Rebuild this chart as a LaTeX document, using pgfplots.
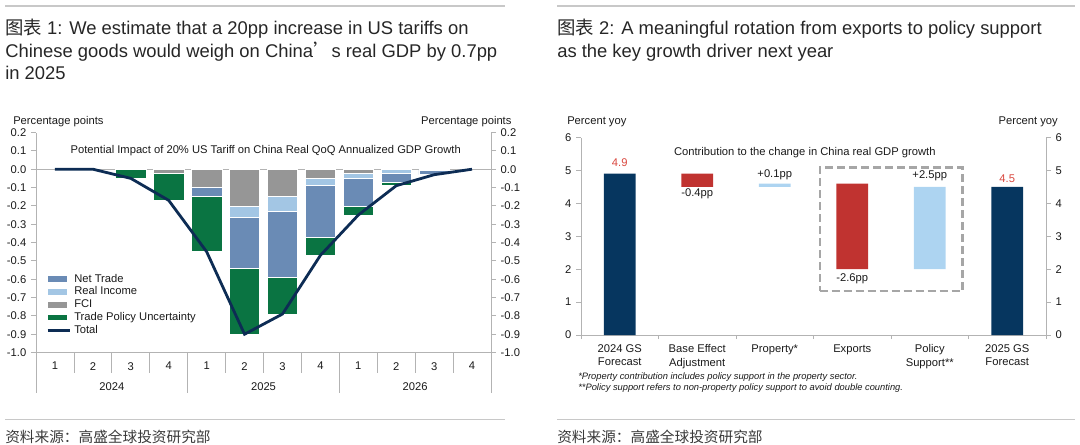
\documentclass[border=0pt]{standalone}
\usepackage{pgfplots}
\pgfplotsset{compat=1.18}
\usepackage{fontspec}
\setmainfont{Liberation Sans}
\newfontfamily\cjk{Noto Sans CJK SC}
\definecolor{ntcol}{HTML}{6A8BB5}
\definecolor{ricol}{HTML}{A3C6E4}
\definecolor{fcicol}{HTML}{969696}
\definecolor{tpucol}{HTML}{0A7442}
\definecolor{navyline}{HTML}{0D2C54}
\definecolor{cnavy}{HTML}{06365F}
\definecolor{cred}{HTML}{C03330}
\definecolor{clb}{HTML}{ADD4F1}
\definecolor{lblred}{HTML}{D9483F}
\definecolor{axgray}{HTML}{B3B3B3}
\definecolor{rulegray}{HTML}{C8C8C8}
\definecolor{boxgray}{HTML}{A6A6A6}
\definecolor{txt}{HTML}{1A1A1A}
\definecolor{titlecol}{HTML}{262626}
\definecolor{srccol}{HTML}{3A3A3A}
\newcommand\fa{\fontsize{8.4}{10}\selectfont}
\newcommand\ft{\fontsize{13.8}{17}\selectfont}
\newcommand\fn{\fontsize{7}{8.5}\selectfont}
\newcommand\fs{\fontsize{11}{13}\selectfont}
\tikzset{sepline/.style={draw=axgray, line width=0.6pt}}
\pgfplotsset{
  myarea/.style={legend image code/.code={\fill[##1] (0pt,-2.15pt) rectangle (14.25pt,2.15pt);}},
  myline/.style={legend image code/.code={\draw[##1] (0pt,0pt) -- (17pt,0pt);}},
  basestyle/.style={scale only axis, axis line style={draw=axgray,-}, tick style={draw=axgray, line width=0.6pt},
    tick align=outside, major tick length=3.75pt, tick label style={font=\fa, text=txt},
    /pgf/number format/assume math mode=true, clip=false},
  onedec/.style={yticklabel style={/pgf/number format/fixed, /pgf/number format/fixed zerofill, /pgf/number format/precision=1}},
}
\begin{document}
\begin{tikzpicture}
\useasboundingbox (0,0) rectangle (810pt,-333pt);
% rules
\draw[rulegray, line width=0.9pt] (3.75pt,-4.5pt) -- (378.75pt,-4.5pt);
\draw[rulegray, line width=0.9pt] (417.75pt,-4.5pt) -- (806.25pt,-4.5pt);
\draw[rulegray, line width=0.9pt] (3.75pt,-314.5pt) -- (378.75pt,-314.5pt);
\draw[rulegray, line width=0.9pt] (417.75pt,-314.5pt) -- (806.25pt,-314.5pt);
% titles
\node[anchor=base west, inner sep=0, font=\ft, text=titlecol] at (3.75pt,-25.9pt) {{\cjk 图表} 1: We estimate that a 20pp increase in US tariffs on};
\node[anchor=base west, inner sep=0, font=\ft, text=titlecol] at (3.75pt,-43.1pt) {Chinese goods would weigh on China{\cjk ’}s real GDP by 0.7pp};
\node[anchor=base west, inner sep=0, font=\ft, text=titlecol] at (3.75pt,-59.6pt) {in 2025};
\node[anchor=base west, inner sep=0, font=\ft, text=titlecol] at (417.75pt,-25.9pt) {{\cjk 图表} 2: A meaningful rotation from exports to policy support};
\node[anchor=base west, inner sep=0, font=\ft, text=titlecol] at (417.75pt,-43.1pt) {as the key growth driver next year};
% sources
\node[anchor=base west, inner sep=0, font=\fs, text=srccol] at (3.75pt,-331.5pt) {\cjk 资料来源：高盛全球投资研究部};
\node[anchor=base west, inner sep=0, font=\fs, text=srccol] at (417.75pt,-331.5pt) {\cjk 资料来源：高盛全球投资研究部};
% unit labels
\node[anchor=base west, inner sep=0, font=\fa, text=txt] at (9.75pt,-93pt) {Percentage points};
\node[anchor=base east, inner sep=0, font=\fa, text=txt] at (383.8pt,-93pt) {Percentage points};
\node[anchor=base west, inner sep=0, font=\fa, text=txt] at (425.25pt,-93pt) {Percent yoy};
\node[anchor=base east, inner sep=0, font=\fa, text=txt] at (793.5pt,-93pt) {Percent yoy};
% footnotes
\node[anchor=base west, inner sep=0, font=\fn\itshape, text=txt] at (433.5pt,-284.25pt) {*Property contribution includes policy support in the property sector.};
\node[anchor=base west, inner sep=0, font=\fn\itshape, text=txt] at (433.5pt,-292.9pt) {**Policy support refers to non-property policy support to avoid double counting.};

% ===== Chart 1: bars =====
\begin{axis}[basestyle, onedec, at={(27pt,-264.4pt)}, anchor=south west, width=341.25pt, height=165pt,
  xmin=0.5, xmax=12.5, ymin=-1, ymax=0.2,
  axis x line*=bottom, axis y line*=left,
  ybar stacked, bar width=0.8,
  ytick={-1,-0.9,-0.8,-0.7,-0.6,-0.5,-0.4,-0.3,-0.2,-0.1,0,0.1,0.2},
  xtick={1,2,3,4,5,6,7,8,9,10,11,12}, xticklabels={1,2,3,4,1,2,3,4,1,2,3,4},
  major x tick style={draw=none},
]
\addplot[fill=fcicol, draw=white, line width=0.4pt] coordinates {(1,0) (2,0) (3,0) (4,-0.02) (5,-0.10) (6,-0.20) (7,-0.15) (8,-0.05) (9,-0.02) (10,0) (11,0) (12,0)};
\addplot[fill=ricol, draw=white, line width=0.4pt] coordinates {(1,0) (2,0) (3,0) (4,0) (5,0) (6,-0.06) (7,-0.08) (8,-0.04) (9,-0.03) (10,-0.02) (11,-0.005) (12,0)};
\addplot[fill=ntcol, draw=white, line width=0.4pt] coordinates {(1,0) (2,0) (3,0) (4,0) (5,-0.05) (6,-0.28) (7,-0.36) (8,-0.28) (9,-0.15) (10,-0.05) (11,-0.025) (12,0)};
\addplot[fill=tpucol, draw=white, line width=0.4pt] coordinates {(1,0) (2,0) (3,-0.05) (4,-0.15) (5,-0.30) (6,-0.36) (7,-0.20) (8,-0.10) (9,-0.05) (10,-0.02) (11,0) (12,0)};
\draw[sepline] (axis cs:0.5,0) -- (axis cs:12.5,0);
\draw[sepline] (axis cs:1.5,-1) -- ([yshift=-15.4pt]axis cs:1.5,-1);
\draw[sepline] (axis cs:2.5,-1) -- ([yshift=-15.4pt]axis cs:2.5,-1);
\draw[sepline] (axis cs:3.5,-1) -- ([yshift=-15.4pt]axis cs:3.5,-1);
\draw[sepline] (axis cs:5.5,-1) -- ([yshift=-15.4pt]axis cs:5.5,-1);
\draw[sepline] (axis cs:6.5,-1) -- ([yshift=-15.4pt]axis cs:6.5,-1);
\draw[sepline] (axis cs:7.5,-1) -- ([yshift=-15.4pt]axis cs:7.5,-1);
\draw[sepline] (axis cs:9.5,-1) -- ([yshift=-15.4pt]axis cs:9.5,-1);
\draw[sepline] (axis cs:10.5,-1) -- ([yshift=-15.4pt]axis cs:10.5,-1);
\draw[sepline] (axis cs:11.5,-1) -- ([yshift=-15.4pt]axis cs:11.5,-1);
\draw[sepline] (axis cs:0.5,-1) -- ([yshift=-30.4pt]axis cs:0.5,-1);
\draw[sepline] (axis cs:4.5,-1) -- ([yshift=-30.4pt]axis cs:4.5,-1);
\draw[sepline] (axis cs:8.5,-1) -- ([yshift=-30.4pt]axis cs:8.5,-1);
\draw[sepline] (axis cs:12.5,-1) -- ([yshift=-30.4pt]axis cs:12.5,-1);
\node[font=\fa, text=txt, yshift=-25.9pt] at (axis cs:2.5,-1) {2024};
\node[font=\fa, text=txt, yshift=-25.9pt] at (axis cs:6.5,-1) {2025};
\node[font=\fa, text=txt, yshift=-25.9pt] at (axis cs:10.5,-1) {2026};
\node[font=\fa, text=txt, anchor=west] at (axis cs:1.29,0.10) {Potential Impact of 20\% US Tariff on China Real QoQ Annualized GDP Growth};
\end{axis}

% ===== Chart 1: right axis, total line, legend =====
\begin{axis}[basestyle, onedec, at={(27pt,-264.4pt)}, anchor=south west, width=341.25pt, height=165pt,
  xmin=0.5, xmax=12.5, ymin=-1, ymax=0.2,
  axis x line=none, axis y line*=right, xtick=\empty,
  ytick={-1,-0.9,-0.8,-0.7,-0.6,-0.5,-0.4,-0.3,-0.2,-0.1,0,0.1,0.2},
  legend style={at={(axis cs:0.76,-0.555)}, anchor=north west, draw=none, fill=none, font=\fa, text=txt,
    row sep=-1.9pt, inner sep=0pt}, legend cell align=left,
]
\addlegendimage{myarea, fill=ntcol, draw=none}\addlegendentry{Net Trade}
\addlegendimage{myarea, fill=ricol, draw=none}\addlegendentry{Real Income}
\addlegendimage{myarea, fill=fcicol, draw=none}\addlegendentry{FCI}
\addlegendimage{myarea, fill=tpucol, draw=none}\addlegendentry{Trade Policy Uncertainty}
\addplot[myline, navyline, line width=2.1pt, mark=none] coordinates {(1,0) (2,0) (3,-0.05) (4,-0.17) (5,-0.45) (6,-0.90) (7,-0.79) (8,-0.47) (9,-0.25) (10,-0.09) (11,-0.03) (12,0)};
\addlegendentry{Total}
\end{axis}

% ===== Chart 2: waterfall =====
\begin{axis}[basestyle, at={(435.75pt,-251.25pt)}, anchor=south west, width=348.75pt, height=148.1pt,
  xmin=-0.5, xmax=5.5, ymin=0, ymax=6,
  axis x line*=bottom, axis y line*=left,
  ybar stacked, bar width=0.41,
  ytick={0,1,2,3,4,5,6},
  xtick={0,1,2,3,4,5},
  xticklabels={{2024 GS\\Forecast},{Base Effect\\Adjustment},{Property*},{Exports},{Policy\\Support**},{2025 GS\\Forecast}},
  xticklabel style={align=center},
  major x tick style={draw=none},
  minor xtick={-0.5,0.5,1.5,2.5,3.5,4.5,5.5}, minor tick length=3pt,
  minor x tick style={draw=axgray, line width=0.6pt},
]
\addplot[fill=none, draw=none] coordinates {(0,0) (1,4.5) (2,4.5) (3,2.0) (4,2.0) (5,0)};
\addplot[fill=cnavy, draw=none] coordinates {(0,4.9) (1,0) (2,0) (3,0) (4,0) (5,4.5)};
\addplot[fill=cred, draw=none] coordinates {(0,0) (1,0.4) (2,0) (3,2.6) (4,0) (5,0)};
\addplot[fill=clb, draw=none] coordinates {(0,0) (1,0) (2,0.1) (3,0) (4,2.5) (5,0)};
\node[font=\fa, text=lblred] at (axis cs:0,5.23) {4.9};
\node[font=\fa, text=txt] at (axis cs:1,4.29) {-0.4pp};
\node[font=\fa, text=txt] at (axis cs:2,4.86) {+0.1pp};
\node[font=\fa, text=txt] at (axis cs:3,1.72) {-2.6pp};
\node[font=\fa, text=txt] at (axis cs:4,4.83) {+2.5pp};
\node[font=\fa, text=lblred] at (axis cs:5,4.75) {4.5};
\node[font=\fa, text=txt, anchor=west] at (axis cs:0.64,5.53) {Contribution to the change in China real GDP growth};
\end{axis}

\begin{axis}[basestyle, at={(435.75pt,-251.25pt)}, anchor=south west, width=348.75pt, height=148.1pt,
  xmin=-0.5, xmax=5.5, ymin=0, ymax=6,
  axis x line=none, axis y line*=right, xtick=\empty,
  ytick={0,1,2,3,4,5,6},
]
\addplot[sharp plot, draw=boxgray, line width=1.8pt, dash pattern=on 6pt off 3pt, mark=none] coordinates {(2.58,1.34) (4.425,1.34) (4.425,5.085) (2.58,5.085) (2.58,1.34)};
\end{axis}
\end{tikzpicture}
\end{document}
